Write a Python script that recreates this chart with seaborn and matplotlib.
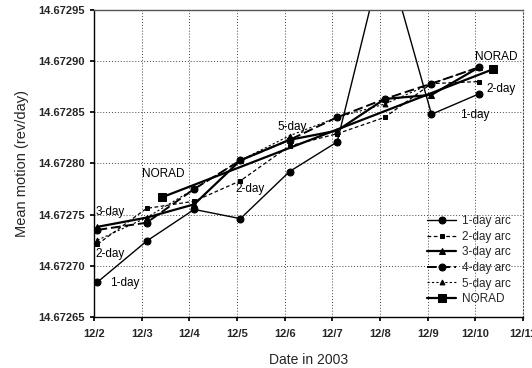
import matplotlib
matplotlib.use("Agg")
import matplotlib.pyplot as plt
import matplotlib.ticker as mticker
import seaborn as sns
import pandas as pd

sns.set_theme(style="white")
plt.rcParams['font.family'] = ['Liberation Sans', 'DejaVu Sans']

# ---- data (day of December 2003, mean motion rev/day) ----
arc_days = [2.07, 3.10, 4.10, 5.07, 6.10, 7.10, 8.10, 9.08, 10.08]
one_day = [14.672684, 14.672724, 14.672755, 14.672746, 14.672792, 14.672821, 14.673010, 14.672848, 14.672868]
two_day = [14.672721, 14.672756, 14.672763, 14.672783, 14.672817, 14.672829, 14.672845, 14.672878, 14.672880]
three_day = [14.672738, 14.672747, 14.672760, 14.672803, 14.672823, 14.672832, 14.672863, 14.672867, 14.672894]
four_day = [14.672735, 14.672742, 14.672775, 14.672803, 14.672823, 14.672845, 14.672863, 14.672878, 14.672894]
five_day = [14.672725, 14.672747, 14.672775, 14.672803, 14.672827, 14.672845, 14.672858, 14.672878, 14.672894]
norad_days = [3.43, 10.37]
norad = [14.672767, 14.672892]

x_ticks = [2, 3, 4, 5, 6, 7, 8, 9, 10, 11]
x_tick_labels = ['12/2', '12/3', '12/4', '12/5', '12/6', '12/7', '12/8', '12/9', '12/10', '12/11']
y_ticks = [14.67265, 14.67270, 14.67275, 14.67280, 14.67285, 14.67290, 14.67295]

series = [
    ('1-day arc', arc_days, one_day, dict(marker='o', ms=5, lw=1.0, ls='-')),
    ('2-day arc', arc_days, two_day, dict(marker='s', ms=3.5, lw=0.9, ls=(0, (3, 2)))),
    ('3-day arc', arc_days, three_day, dict(marker='^', ms=5, lw=1.6, ls='-')),
    ('4-day arc', arc_days, four_day, dict(marker='o', ms=5, lw=1.4, ls=(0, (5, 2)))),
    ('5-day arc', arc_days, five_day, dict(marker='^', ms=3.5, lw=0.8, ls=(0, (2, 2)))),
    ('NORAD', norad_days, norad, dict(marker='s', ms=6, lw=1.6, ls='-')),
]

fig = plt.figure(figsize=(5.32, 3.68), dpi=100)
ax = fig.add_axes([0.177, 0.139, 0.806, 0.834])

for name, xs, ys, st in series:
    df = pd.DataFrame({'x': xs, 'y': ys})
    sns.lineplot(data=df, x='x', y='y', ax=ax, color='black', label=name,
                 marker=st['marker'], markersize=st['ms'], linewidth=st['lw'],
                 linestyle=st['ls'], markeredgecolor='black', markerfacecolor='black',
                 sort=False, estimator=None)

ax.set_xlim(2, 11)
ax.set_ylim(14.67265, 14.67295)
ax.set_xticks(x_ticks)
ax.set_xticklabels(x_tick_labels)
ax.set_yticks(y_ticks)
ax.yaxis.set_major_formatter(mticker.FormatStrFormatter('%.5f'))
ax.tick_params(axis='both', labelsize=8, length=3, direction='out', color='black')
for lab in ax.get_xticklabels() + ax.get_yticklabels():
    lab.set_fontweight('bold')
ax.tick_params(axis='x', pad=6, bottom=True)
ax.tick_params(axis='y', left=True)

ax.grid(True, which='major', color='#444444', linestyle=(0, (1, 2)), linewidth=0.7)
for s in ['left', 'bottom']:
    ax.spines[s].set_color('black')
    ax.spines[s].set_linewidth(1.0)
ax.spines['top'].set_color('#555555')
ax.spines['top'].set_linewidth(1.0)
ax.spines['right'].set_color('#444444')
ax.spines['right'].set_linestyle((0, (1, 2)))
ax.spines['right'].set_linewidth(0.8)

ax.set_xlabel('Date in 2003', fontsize=10, labelpad=10)
ax.set_ylabel('Mean motion (rev/day)', fontsize=10.5, labelpad=7)

# in-plot annotations
ann = [
    ('3-day', 2.02, 14.672752),
    ('2-day', 2.03, 14.672711),
    ('1-day', 2.33, 14.672683),
    ('NORAD', 3.0, 14.672790),
    ('2-day', 4.97, 14.672775),
    ('5-day', 5.85, 14.672836),
    ('1-day', 9.68, 14.672847),
    ('2-day', 10.24, 14.672873),
    ('NORAD', 10.0, 14.672904),
]
for t, x, y in ann:
    ax.text(x, y, t, fontsize=8.5, ha='left', va='center', color='black')

leg = ax.legend(loc='lower right', frameon=False, fontsize=8.5, handlelength=2.5,
                labelspacing=0.3, handletextpad=0.5, borderaxespad=0.6)

fig.savefig('out.png', dpi=100)
